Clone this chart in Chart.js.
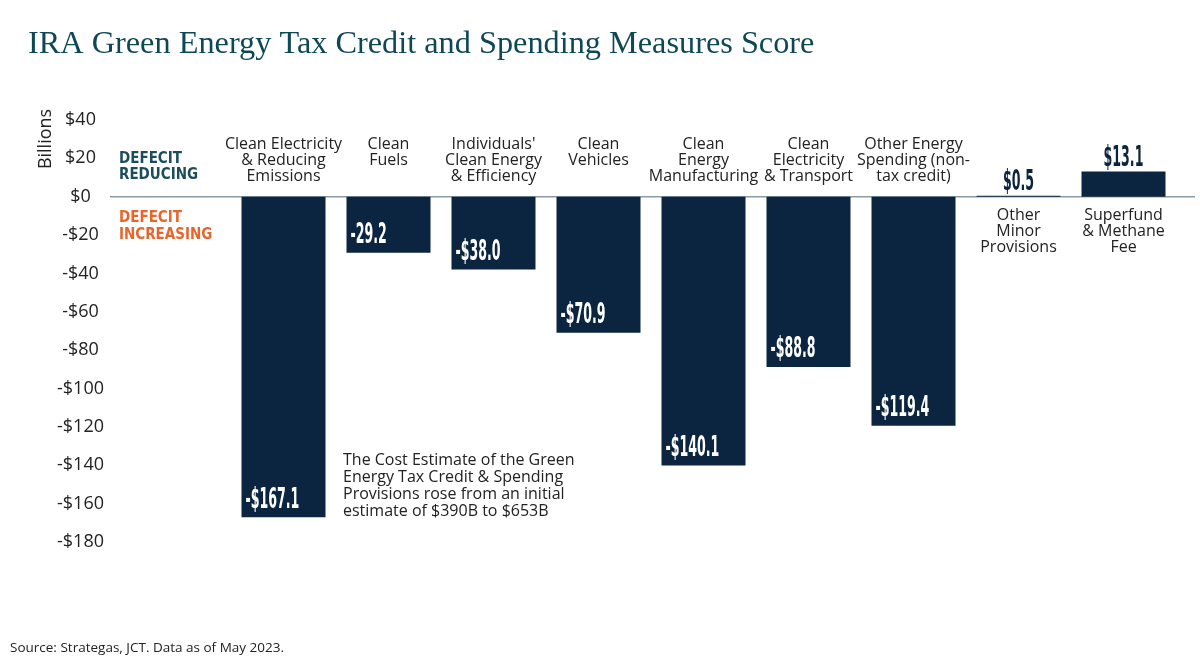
<!DOCTYPE html>
<html>
<head>
<meta charset="utf-8">
<script src="https://cdn.jsdelivr.net/npm/chart.js@4"></script>
<style>
  html, body { margin: 0; padding: 0; background: #fff; }
  #wrap { width: 1200px; height: 671px; position: relative; }
</style>
</head>
<body>
<div id="wrap"><canvas id="chart" width="1200" height="671"></canvas></div>
<script>
// data
const categories = [
    ["Clean Electricity", "& Reducing", "Emissions"],
    ["Clean", "Fuels"],
    ["Individuals'", "Clean Energy", "& Efficiency"],
    ["Clean", "Vehicles"],
    ["Clean", "Energy", "Manufacturing"],
    ["Clean", "Electricity", "& Transport"],
    ["Other Energy", "Spending (non-", "tax credit)"],
    ["Other", "Minor", "Provisions"],
    ["Superfund", "& Methane", "Fee"]
];
const scores = [-167.1, -29.2, -38.0, -70.9, -140.1, -88.8, -119.4, 0.5, 13.1];
const scoreLabels = ["-$167.1", "-29.2", "-$38.0", "-$70.9", "-$140.1", "-$88.8", "-$119.4", "$0.5", "$13.1"];
const yTicks = [40, 20, 0, -20, -40, -60, -80, -100, -120, -140, -160, -180];

const navy = "#0b2540";
const sansFont = '"Open Sans", "Liberation Sans", Arial, sans-serif';
const narrowFont = '"DejaVu Sans Condensed", "Liberation Sans Narrow", sans-serif';

const fmtTick = v => (v < 0 ? "-$" : "$") + Math.abs(v);

// squeezed bold text for the bar values
function narrowText(ctx, text, x, y, align) {
    ctx.save();
    ctx.font = "bold 28px " + narrowFont;
    ctx.textAlign = align;
    ctx.translate(x, y);
    ctx.scale(0.5, 1);
    ctx.fillText(text, 0, 0);
    ctx.restore();
}

// extra drawing: title, zero line, labels, notes
const decorations = {
    id: "decorations",
    beforeDatasetsDraw(chart) {
        const ctx = chart.ctx;
        const zeroY = chart.scales.y.getPixelForValue(0);
        ctx.save();
        ctx.strokeStyle = "#8d9ba6";
        ctx.lineWidth = 1.5;
        ctx.beginPath();
        ctx.moveTo(110, zeroY);
        ctx.lineTo(1195, zeroY);
        ctx.stroke();
        ctx.restore();
    },
    afterDatasetsDraw(chart) {
        const ctx = chart.ctx;
        const zeroY = chart.scales.y.getPixelForValue(0);
        const bars = chart.getDatasetMeta(0).data;
        ctx.save();

        // title
        ctx.fillStyle = "#0e4857";
        ctx.font = '32.3px "Liberation Serif", "DejaVu Serif", serif';
        ctx.textAlign = "left";
        ctx.textBaseline = "alphabetic";
        ctx.fillText("IRA Green Energy Tax Credit and Spending Measures Score", 28, 53);

        // axis title
        ctx.save();
        ctx.translate(46, 139);
        ctx.rotate(-Math.PI / 2);
        ctx.fillStyle = "#222";
        ctx.font = "18px " + sansFont;
        ctx.textAlign = "center";
        ctx.textBaseline = "middle";
        ctx.fillText("Billions", 0, 0);
        ctx.restore();

        // defecit tags
        ctx.font = "bold 15px " + narrowFont;
        ctx.textAlign = "left";
        ctx.textBaseline = "middle";
        ctx.fillStyle = "#1b4d5c";
        ctx.fillText("DEFECIT", 119, zeroY - 38);
        ctx.fillText("REDUCING", 119, zeroY - 22);
        ctx.fillStyle = "#e8652b";
        ctx.fillText("DEFECIT", 119, zeroY + 21);
        ctx.fillText("INCREASING", 119, zeroY + 38);

        // bar labels
        bars.forEach((bar, i) => {
            const v = scores[i];
            const lines = categories[i];
            ctx.font = "16px " + sansFont;
            ctx.fillStyle = "#222";
            ctx.textAlign = "center";
            ctx.textBaseline = "middle";
            if (v < 0) {
                lines.forEach((t, k) => ctx.fillText(t, bar.x, zeroY - 52 + k * 16));
                ctx.fillStyle = "#fff";
                narrowText(ctx, scoreLabels[i], bar.x - bar.width / 2 + 4, bar.y - 17, "left");
            } else {
                lines.forEach((t, k) => ctx.fillText(t, bar.x, zeroY + 19 + k * 16));
                ctx.fillStyle = navy;
                ctx.textBaseline = "alphabetic";
                narrowText(ctx, scoreLabels[i], bar.x, bar.y - 6, "center");
            }
        });

        // note
        ctx.font = "16px " + sansFont;
        ctx.fillStyle = "#222";
        ctx.textAlign = "left";
        ctx.textBaseline = "middle";
        ["The Cost Estimate of the Green",
         "Energy Tax Credit & Spending",
         "Provisions rose from an initial",
         "estimate of $390B to $653B"].forEach((t, k) => ctx.fillText(t, 343, 460 + k * 17));

        // source
        ctx.font = "13.5px " + sansFont;
        ctx.fillText("Source: Strategas, JCT. Data as of May 2023.", 10, 648);
        ctx.restore();
    }
};

new Chart(document.getElementById("chart"), {
    type: "bar",
    data: {
        labels: categories,
        datasets: [{
            data: scores,
            backgroundColor: navy,
            borderWidth: 0,
            categoryPercentage: 0.8,
            barPercentage: 1.0
        }]
    },
    options: {
        responsive: false,
        animation: false,
        layout: { padding: { top: 120, bottom: 129, left: 0, right: 24 } },
        plugins: {
            legend: { display: false },
            tooltip: { enabled: false }
        },
        scales: {
            x: { display: false },
            y: {
                min: -180,
                max: 40,
                afterFit: axis => {
                    axis.width = 231;
                    // tick padding is only meant to push labels sideways
                    axis.paddingTop = 0;
                    axis.paddingBottom = 0;
                },
                afterBuildTicks: axis => { axis.ticks = yTicks.map(v => ({ value: v })); },
                grid: { display: false, drawTicks: false },
                border: { display: false },
                ticks: {
                    padding: 127,
                    crossAlign: "center",
                    color: "#222",
                    font: { size: 18, family: sansFont },
                    callback: v => fmtTick(v)
                }
            }
        }
    },
    plugins: [decorations]
});
</script>
</body>
</html>
